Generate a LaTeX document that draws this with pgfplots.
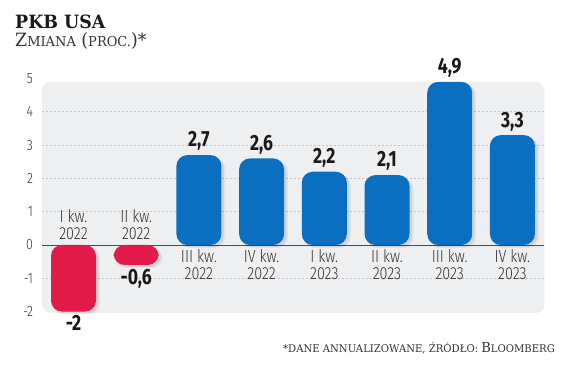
\documentclass[border=0pt]{standalone}
\usepackage{pgfplots}
\pgfplotsset{compat=1.18}
\usetikzlibrary{shadows}
\usepackage{fontspec}
\setmainfont{DejaVu Serif}
\newfontfamily\slab[FakeStretch=0.95]{DejaVu Serif}
\newfontfamily\condlight[FakeStretch=0.82]{Fira Sans Light}
\newfontfamily\cond[FakeStretch=0.8]{Fira Sans}
\definecolor{barblue}{RGB}{11,111,193}
\definecolor{barred}{RGB}{226,26,72}
\definecolor{panel}{RGB}{238,239,241}
\definecolor{txt}{RGB}{51,51,51}
\definecolor{gridc}{RGB}{195,196,199}
\newcommand{\fsc}[1]{{\fontsize{13.7}{14}\selectfont #1}}
\newcommand{\fscs}[1]{{\fontsize{10.6}{12}\selectfont #1}}
\begin{document}
\begin{tikzpicture}
\path[use as bounding box] (0,0) rectangle (564pt,379pt);
\fill[white] (0,0) rectangle (564pt,379pt);
% titles
\node[anchor=base west, inner sep=0pt, text=black!90] at (15pt,350.7pt) {\slab\bfseries\fontsize{18.3}{20}\selectfont PKB USA};
\node[anchor=base west, inner sep=0pt, text=txt] at (15pt,332pt) {\slab\fontsize{18.3}{20}\selectfont Z\fsc{MIANA} (\fsc{PROC.})*};
\node[anchor=base east, inner sep=0pt, text=txt] at (555pt,26pt) {\slab\fscs{*DANE ANNUALIZOWANE, ŹRÓDŁO: }\fsc{B}\fscs{LOOMBERG}};
\begin{axis}[
  at={(42.15pt,67.4pt)}, anchor=south west,
  scale only axis, width=501.6pt, height=233.1pt,
  xmin=-0.5, xmax=7.5, ymin=-2, ymax=5,
  clip=false,
  axis line style={draw=none},
  major tick length=0pt,
  xtick=\empty,
  ytick={-2,-1,0,1,2,3,4,5},
  /pgf/number format/assume math mode=true,
  yticklabel style={font=\condlight\fontsize{15}{15}\selectfont, text=txt, anchor=east, inner sep=0pt, xshift=-9pt},
  /pgf/number format/.cd, use comma, fixed, precision=1, /pgfplots/.cd,
  every node near coord/.append style={font=\cond\bfseries\fontsize{22}{22}\selectfont, text=black!90, inner sep=4pt},
]
\fill[panel, rounded corners=8pt, drop shadow={shadow xshift=0.8pt, shadow yshift=-1.2pt, opacity=0.12}] (axis cs:-0.5,-2) rectangle (axis cs:7.5,4.9);
\foreach \yy in {-1,1,2,3,4} {
  \edef\tmp{\noexpand\draw[gridc, dash pattern=on 2pt off 2pt, line width=0.6pt] (axis cs:-0.5,\yy) -- (axis cs:7.5,\yy);}
  \tmp
}
\draw[black!70, line width=0.8pt] (axis cs:-0.5,0) -- (axis cs:7.5,0);
% soft bar shadows
\addplot[ybar, bar width=46pt, bar shift=2pt, yshift=-2pt, fill=black, opacity=0.07, draw=none, rounded corners=11pt] coordinates {(0,-2) (1,-0.6) (2,2.7) (3,2.6) (4,2.2) (5,2.1) (6,4.9) (7,3.3)};
\addplot[ybar, bar width=47pt, bar shift=3pt, yshift=-3pt, fill=black, opacity=0.05, draw=none, rounded corners=11pt] coordinates {(0,-2) (1,-0.6) (2,2.7) (3,2.6) (4,2.2) (5,2.1) (6,4.9) (7,3.3)};
\addplot[ybar, bar width=45pt, bar shift=0pt, fill=barred, draw=none, rounded corners=11pt, nodes near coords] coordinates {(0,-2) (1,-0.6)};
\addplot[ybar, bar width=45pt, bar shift=0pt, fill=barblue, draw=none, rounded corners=11pt, nodes near coords] coordinates {(2,2.7) (3,2.6) (4,2.2) (5,2.1) (6,4.9) (7,3.3)};
% category labels
\tikzset{cat/.style={align=center, font=\condlight\fontsize{17.5}{17}\selectfont, text=txt, inner sep=0pt}}
\node[cat, anchor=south] at (axis cs:0,0.15) {I kw.\\2022};
\node[cat, anchor=south] at (axis cs:1,0.15) {II kw.\\2022};
\node[cat, anchor=north] at (axis cs:2,-0.13) {III kw.\\2022};
\node[cat, anchor=north] at (axis cs:3,-0.13) {IV kw.\\2022};
\node[cat, anchor=north] at (axis cs:4,-0.13) {I kw.\\2023};
\node[cat, anchor=north] at (axis cs:5,-0.13) {II kw.\\2023};
\node[cat, anchor=north] at (axis cs:6,-0.13) {III kw.\\2023};
\node[cat, anchor=north] at (axis cs:7,-0.13) {IV kw.\\2023};
\end{axis}
\end{tikzpicture}
\end{document}
